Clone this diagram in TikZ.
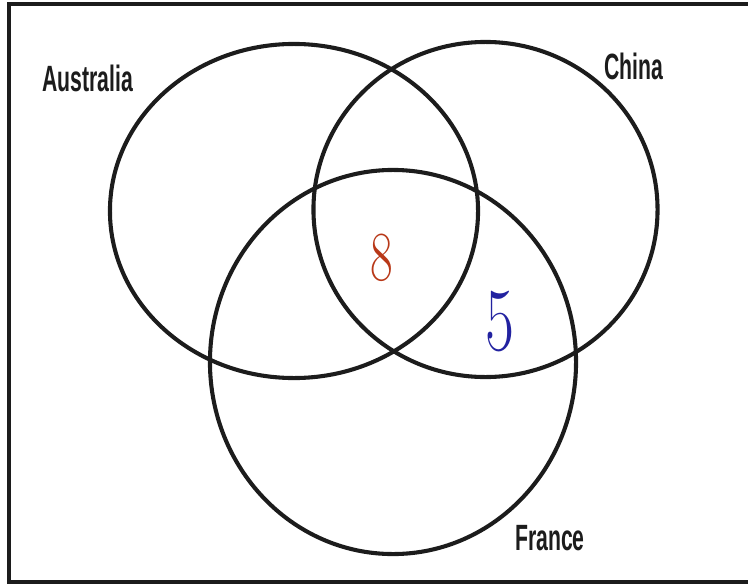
\documentclass[tikz,border=0pt]{standalone}
\usepackage{fontspec}
\newfontfamily\setfont{Liberation Sans}
\usepackage{tikz}
\usetikzlibrary{shapes.geometric}
\definecolor{inkline}{RGB}{28,28,28}
\definecolor{eightred}{RGB}{184,56,24}
\definecolor{fiveblue}{RGB}{34,34,160}

\begin{document}
\begin{tikzpicture}[
  x=0.025cm, y=-0.025cm,
  setring/.style={draw=inkline, ellipse, line width=2.9pt, inner sep=0pt},
  setlabel/.style={font=\setfont\bfseries\fontsize{26}{26}\selectfont, xscale=0.58, inner sep=0pt, text=inkline},
  count/.style={font=\fontsize{50}{50}\selectfont, xscale=0.7, inner sep=0pt}
]
\useasboundingbox (0,0) rectangle (748,585);
\draw[inkline, line width=2.6pt] (9,4) rectangle (775,582);

\node[setring, minimum width=9.2cm, minimum height=8.35cm] (aus) at (294,211) {};
\node[setring, minimum width=8.6cm, minimum height=8.375cm] (chn) at (485.5,209.5) {};
\node[setring, minimum width=9.15cm, minimum height=9.6cm] (fra) at (393,362) {};

\node[setlabel] (auslabel) at (88,78) {Australia};
\node[setlabel] (chnlabel) at (634,66) {China};
\node[setlabel] (fralabel) at (550,538) {France};

\node[count, text=eightred] (all) at (382,258) {8};
\node[count, text=fiveblue, font=\fontsize{64}{64}\selectfont] (chnfra) at (500,322) {5};
\end{tikzpicture}
\end{document}
